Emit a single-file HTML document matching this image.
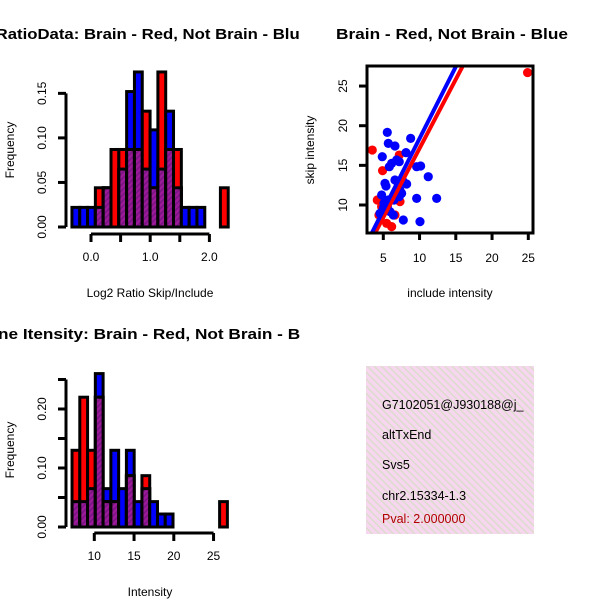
<!DOCTYPE html>
<html><head><meta charset="utf-8"><style>body{margin:0;background:#fff}svg{display:block;font-family:"Liberation Sans",sans-serif}</style></head>
<body>
<svg width="600" height="600" viewBox="0 0 600 600" xmlns="http://www.w3.org/2000/svg">
<defs>
<pattern id="hatch" width="4" height="4" patternUnits="userSpaceOnUse" patternTransform="rotate(45)">
<rect width="4" height="4" fill="#9a1a9a"/><rect width="1.5" height="4" fill="#7a1480"/>
</pattern>
<pattern id="pink" width="5" height="5" patternUnits="userSpaceOnUse" patternTransform="rotate(-45)">
<rect width="5" height="5" fill="#f7d6f0"/><rect width="1.5" height="5" fill="#dcdccc"/>
</pattern>
<clipPath id="cTL"><rect x="0" y="0" width="300" height="300"/></clipPath>
<clipPath id="cBL"><rect x="0" y="300" width="300" height="300"/></clipPath>
<clipPath id="cSc"><rect x="367" y="66" width="166" height="167"/></clipPath>
<clipPath id="cBR"><rect x="366" y="366" width="168" height="168"/></clipPath>
</defs>
<g id="tl"></g>
<g id="bl"></g>
<g id="sc"></g>
<g clip-path="url(#cBR)">
<rect x="366" y="366" width="168" height="168" fill="url(#pink)"/>
<g font-size="12.5" fill="#000">
<text x="382" y="409">G7102051@J930188@j_</text>
<text x="382" y="439">altTxEnd</text>
<text x="382" y="469">Svs5</text>
<text x="382" y="500">chr2.15334-1.3</text>
<text x="382" y="523" fill="#b00000">Pval: 2.000000</text>
</g></g>
</svg>
<script>
// Top-left histogram data
const ratioBinStart = -0.322, ratioBinWidth = 0.132;
const ratioRed  = [0,0,0,0.044,0.044,0.087,0.087,0.087,0.087,0.13,0.044,0.174,0.087,0.087,0,0,0,0,0,0.044];
const ratioBlue = [0.022,0.022,0.022,0.022,0.044,0,0.065,0.152,0.174,0.065,0.109,0.065,0.13,0.044,0.022,0.022,0.022,0,0,0];
const ratioYTicks = [0,0.05,0.10,0.15];
const ratioYLabels = ["0.00","0.05","0.10","0.15"];
const ratioXTicks = [0,0.5,1,1.5,2];
const ratioXLabels = ["0.0","","1.0","","2.0"];
// Bottom-left histogram data
const intBinStart = 7.2, intBinWidth = 0.977;
const intRed  = [0.13,0.22,0.13,0.22,0.043,0.043,0,0.087,0,0.087,0,0,0,0,0,0,0,0,0,0.043];
const intBlue = [0.043,0.043,0.065,0.26,0.065,0.13,0.065,0.13,0.043,0.065,0.043,0.022,0.022,0,0,0,0,0,0,0];
const intYTicks = [0,0.05,0.10,0.15,0.20,0.25];
const intYLabels = ["0.00","","0.10","","0.20",""];
const intXTicks = [10,15,20,25];
const intXLabels = ["10","15","20","25"];
// Scatter data
const blueX = [5.55,4.86,5.69,6.61,8.13,8.77,6.84,6.15,5.83,7.2,9.6,10.15,11.2,5.23,5.37,6.61,7.76,8.22,7.3,7.53,4.77,5.09,5.55,5.92,6.38,9.6,12.36,7.76,10.06,5.69,6.47,5.0,4.54,7.2];
const blueY = [19.16,16.09,17.77,17.44,16.6,18.4,15.67,15.25,14.83,15.46,14.83,14.92,13.57,12.73,12.39,13.15,12.94,12.65,11.89,11.47,11.26,10.21,9.79,9.16,8.74,10.84,10.84,8.11,7.9,10.63,10.63,9.58,8.95,11.05];
const redX = [3.48,4.9,7.2,4.17,4.4,5.46,6.15,7.3,6.61,4.77,24.9];
const redY = [16.93,14.33,16.3,10.63,8.74,7.69,7.27,10.42,8.74,9.79,26.7];
const blueFit = [0.29,1.81];   // intercept, slope
const redFit = [-0.28,1.742];
const scXTicks = [5,10,15,20,25];
const scYTicks = [10,15,20,25];

const NS="http://www.w3.org/2000/svg";
function mk(parent,tag,attrs,text){const e=document.createElementNS(NS,tag);for(const k in attrs)e.setAttribute(k,attrs[k]);if(text!==undefined)e.textContent=text;parent.appendChild(e);return e;}

function hist(g,o){
  const xs=v=>o.x0px+(v-o.x0)*o.xs, ys=v=>o.y0px-v*o.ys;
  g.setAttribute('clip-path',o.clip);
  const t=mk(g,'text',{x:o.titleX,y:o.titleY,'font-size':15,'font-weight':'bold',textLength:o.titleLen,lengthAdjust:'spacingAndGlyphs'},o.title);
  
  
  const bars=mk(g,'g',{});
  
  
  for(let i=0;i<o.red.length;i++){
    const a=o.binStart+i*o.binW, b=a+o.binW;
    const x1=xs(a), w=xs(b)-xs(a);
    const r=o.red[i], bl=o.blue[i], mn=Math.min(r,bl), mx=Math.max(r,bl);
    if(mx<=0) continue;
    if(bl>0){const e=mk(bars,'rect',{x:x1,y:ys(bl),width:w,height:ys(0)-ys(bl),fill:'#0000ff',stroke:'#000','stroke-width':3});
      
      }
    if(r>0){const e=mk(bars,'rect',{x:x1,y:ys(r),width:w,height:ys(0)-ys(r),fill:'#ff0000',stroke:'#000','stroke-width':3});
      
      }
    if(mn>0){const e=mk(bars,'rect',{x:x1,y:ys(mn),width:w,height:ys(0)-ys(mn),fill:'url(#hatch)',stroke:'#000','stroke-width':3});
      
      }
  }
  const ya=mk(g,'g',{});
  
  
  const yt=o.yTicks;
  mk(ya,'line',{x1:66,x2:66,y1:ys(yt[0]),y2:ys(yt[yt.length-1]),stroke:'#000','stroke-width':3});
  yt.forEach((v,i)=>{mk(ya,'line',{x1:58,x2:66,y1:ys(v),y2:ys(v),stroke:'#000','stroke-width':3});
    if(o.yLabels[i]){const l=mk(ya,'text',{x:0,y:0,transform:`translate(46,${ys(v)}) rotate(-90)`,'text-anchor':'middle','font-size':12},o.yLabels[i]);
      
      }});
  const yl=mk(ya,'text',{transform:`translate(14,${o.yTitleY}) rotate(-90)`,'text-anchor':'middle','font-size':12},'Frequency');
  
  
  const xa=mk(g,'g',{});
  
  
  const xt=o.xTicks;
  mk(xa,'line',{x1:xs(xt[0]),x2:xs(xt[xt.length-1]),y1:o.axY,y2:o.axY,stroke:'#000','stroke-width':3});
  xt.forEach((v,i)=>{mk(xa,'line',{x1:xs(v),x2:xs(v),y1:o.axY,y2:o.axY+8,stroke:'#000','stroke-width':3});
    if(o.xLabels[i]){const l=mk(xa,'text',{x:xs(v),y:o.axY+27,'text-anchor':'middle','font-size':12},o.xLabels[i]);
      
      }});
  const xl=mk(xa,'text',{x:150,y:o.axY+63,'text-anchor':'middle','font-size':12},o.xTitle);
  
  
}
hist(document.getElementById('tl'),{clip:'url(#cTL)',title:'Log2 RatioData: Brain - Red, Not Brain - Blue',titleX:-49,titleY:39,titleLen:358,
  x0:0,x0px:91,xs:59.2,y0px:227,ys:891,binStart:ratioBinStart,binW:ratioBinWidth,red:ratioRed,blue:ratioBlue,
  yTicks:ratioYTicks,yLabels:ratioYLabels,xTicks:ratioXTicks,xLabels:ratioXLabels,axY:234,yTitleY:150,xTitle:'Log2 Ratio Skip/Include'});
hist(document.getElementById('bl'),{clip:'url(#cBL)',title:'Gene Itensity: Brain - Red, Not Brain - Blue',titleX:-25,titleY:339,titleLen:350,
  x0:10,x0px:94.3,xs:7.95,y0px:527,ys:590,binStart:intBinStart,binW:intBinWidth,red:intRed,blue:intBlue,
  yTicks:intYTicks,yLabels:intYLabels,xTicks:intXTicks,xLabels:intXLabels,axY:533,yTitleY:450,xTitle:'Intensity'});

(function(){
  const g=document.getElementById('sc');
  const xs=v=>383.3+(v-5)*7.25, ys=v=>205-(v-10)*7.93;
  const t=mk(g,'text',{x:452,y:39,'text-anchor':'middle','font-size':15,'font-weight':'bold',textLength:232,lengthAdjust:'spacingAndGlyphs'},'Brain - Red, Not Brain - Blue');
  
  
  const pts=mk(g,'g',{'clip-path':'url(#cSc)'});
  
  
  redX.forEach((x,i)=>{const c=mk(pts,'circle',{cx:xs(x),cy:ys(redY[i]),r:4.6,fill:'#ff0000'});
    
    });
  blueX.forEach((x,i)=>{const c=mk(pts,'circle',{cx:xs(x),cy:ys(blueY[i]),r:4.6,fill:'#0000ff'});
    
    });
  [[redFit,'#ff0000','fit-line-red'],[blueFit,'#0000ff','fit-line-blue']].forEach(([f,col,nm])=>{
    const l=mk(pts,'line',{x1:xs(0),y1:ys(f[0]),x2:xs(30),y2:ys(f[0]+f[1]*30),stroke:col,'stroke-width':4});
    
    });
  const box=mk(g,'rect',{x:367,y:66,width:166,height:167,fill:'none',stroke:'#000','stroke-width':3});
  
  
  const xa=mk(g,'g',{});
  
  
  scXTicks.forEach(v=>{mk(xa,'line',{x1:xs(v),x2:xs(v),y1:233,y2:240,stroke:'#000','stroke-width':3});
    const l=mk(xa,'text',{x:xs(v),y:262,'text-anchor':'middle','font-size':12},String(v));
    
    });
  const xl=mk(xa,'text',{x:450,y:297,'text-anchor':'middle','font-size':12},'include intensity');
  
  
  const ya=mk(g,'g',{});
  
  
  scYTicks.forEach(v=>{mk(ya,'line',{x1:359,x2:367,y1:ys(v),y2:ys(v),stroke:'#000','stroke-width':3});
    const l=mk(ya,'text',{transform:`translate(347,${ys(v)}) rotate(-90)`,'text-anchor':'middle','font-size':12},String(v));
    
    });
  const yl=mk(ya,'text',{transform:'translate(314,150) rotate(-90)','text-anchor':'middle','font-size':12},'skip intensity');
  
  
})();
</script>
</body></html>
